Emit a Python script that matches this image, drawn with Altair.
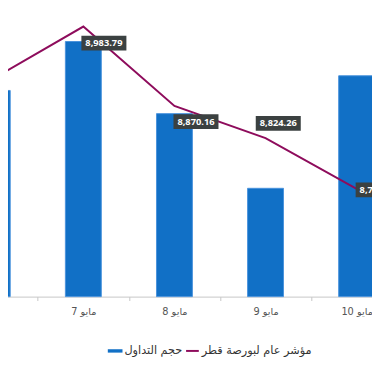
import altair as alt
import pandas as pd

# ---- data ----
categories = ["مايو 6", "مايو 7", "مايو 8", "مايو 9", "مايو 10"]
volume = [210.7, 260.7, 187.0, 110.7, 225.7]
index_vals = [8908.43, 8983.79, 8870.16, 8824.26, 8751.52]
index_labels = ["8,908.43", "8,983.79", "8,870.16", "8,824.26", "8,751.52"]
series_names = ["حجم التداول", "مؤشر عام لبورصة قطر"]

# ---- style / layout ----
BLUE = "#1170c6"
PURPLE = "#8e0c5c"
BOX = "#3b4141"
VOL_DOMAIN = [0, 291]
IDX_DOMAIN = [8597.56, 9004.78]
LABEL_OFFSETS = {
    "مايو 6": (-12, -13),
    "مايو 7": (21, 17),
    "مايو 8": (22, 16),
    "مايو 9": (13, -15),
    "مايو 10": (22, 1),
}
W, H = 372, 291

df = pd.DataFrame({
    "cat": categories,
    "vol": volume,
    "idx": index_vals,
    "lab": index_labels,
    "s_vol": series_names[0],
    "s_idx": series_names[1],
})

base = alt.Chart(df)

x_enc = alt.X(
    "cat:N",
    sort=categories,
    scale=alt.Scale(domain=categories, range=[-62.65, 402.85],
                    paddingInner=0, paddingOuter=0),
    axis=alt.Axis(title=None, tickBand="extent", domainColor="#c6c6c6",
                  tickColor="#c6c6c6", tickSize=4, labelFontSize=10,
                  labelColor="#555555", labelPadding=6, labelFont="DejaVu Sans",
                  grid=False, labelAngle=0),
)

y_idx = alt.Y("idx:Q", scale=alt.Scale(domain=IDX_DOMAIN, nice=False, zero=False),
              axis=None)

bars = base.mark_bar(width=36.7, stroke="#4a92dc", strokeWidth=1).encode(
    x=x_enc,
    y=alt.Y("vol:Q", scale=alt.Scale(domain=VOL_DOMAIN, nice=False), axis=None),
    fill=alt.Fill(
        "s_vol:N",
        scale=alt.Scale(domain=[series_names[0]], range=[BLUE]),
        legend=alt.Legend(
            title=None, orient="none", legendX=102, legendY=339,
            symbolType="M-1,-0.23L1,-0.23L1,0.23L-1,0.23Z", symbolSize=225,
            symbolStrokeWidth=0, labelFont="DejaVu Sans", labelFontSize=11.5,
            labelColor="#333333", labelOffset=2, padding=0,
        ),
    ),
)

line = base.mark_line(strokeWidth=2).encode(
    x="cat:N",
    y=y_idx,
    stroke=alt.Stroke(
        "s_idx:N",
        scale=alt.Scale(domain=[series_names[1]], range=[PURPLE]),
        legend=alt.Legend(
            title=None, orient="none", legendX=181, legendY=339,
            symbolType="stroke", symbolSize=169, symbolStrokeWidth=2,
            labelFont="DejaVu Sans", labelFontSize=11.5,
            labelColor="#333333", labelOffset=2, padding=0,
        ),
    ),
)

layers = [bars, line]
for cat in categories:
    dx, dy = LABEL_OFFSETS[cat]
    sub = base.transform_filter(alt.datum.cat == cat)
    box = sub.mark_point(
        shape="M-1,-0.326L1,-0.326L1,0.326L-1,0.326Z", size=46 ** 2,
        filled=True, color=BOX, opacity=1, strokeWidth=0,
        xOffset=dx, yOffset=dy,
    ).encode(x="cat:N", y=y_idx)
    txt = sub.mark_text(
        dx=dx, dy=dy, font="Open Sans", fontWeight="bold", fontSize=9.5,
        color="white", align="center", baseline="middle",
    ).encode(x="cat:N", y=y_idx, text="lab:N")
    layers += [box, txt]

chart = alt.layer(*layers).resolve_scale(y="independent").properties(
    width=W, height=H,
    autosize=alt.AutoSizeParams(type="none"),
    padding={"left": 0, "top": 0, "right": 0, "bottom": 70},
).configure_view(stroke=None)

chart.save("out.html", embed_options={"renderer": "svg", "actions": False})
